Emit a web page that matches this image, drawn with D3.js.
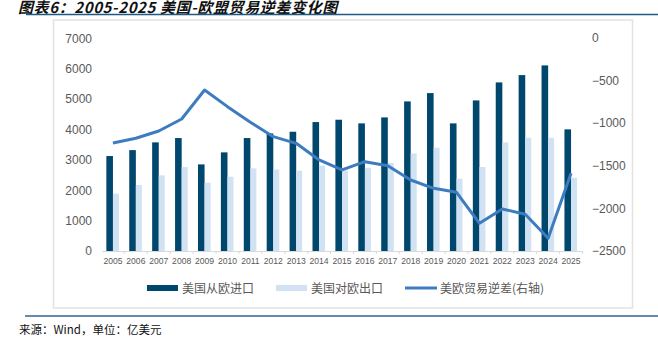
<!DOCTYPE html>
<html><head><meta charset="utf-8">
<script src="https://cdn.jsdelivr.net/npm/d3@7/dist/d3.min.js"></script>
<style>
body{margin:0;background:#fff;}
svg text{font-family:"Liberation Sans","Noto Sans CJK SC",sans-serif;}
</style></head>
<body><svg id="c" width="658" height="341"></svg>
<script>
const years = ["2005","2006","2007","2008","2009","2010","2011","2012","2013","2014","2015","2016","2017","2018","2019","2020","2021","2022","2023","2024","2025"];
const imports = [3125,3320,3575,3717,2850,3246,3717,3870,3925,4243,4320,4200,4397,4923,5197,4200,4956,5548,5789,6108,4003];
const exports = [1885,2171,2490,2763,2247,2445,2719,2686,2642,2807,2650,2740,2895,3213,3399,2379,2763,3575,3728,3728,2412];
const deficit = [-1234,-1179,-1094,-953,-613,-808,-992,-1160,-1238,-1433,-1550,-1453,-1500,-1668,-1765,-1812,-2175,-2008,-2070,-2351,-1589];
const leftTicks = [0,1000,2000,3000,4000,5000,6000,7000];
const rightTicks = [0,-500,-1000,-1500,-2000,-2500];
const seriesNames = ["美国从欧进口","美国对欧出口","美欧贸易逆差(右轴)"];
const titleText = "图表6：2005-2025 美国-欧盟贸易逆差变化图";
const footText = "来源：Wind，单位：亿美元";

const svg = d3.select("#c");
const cDark = "#00476e", cLight = "#d1e2f3", cLine = "#3e7cc0";

// title
svg.append("text").attr("x",18).attr("y",13).text(titleText)
  .style("font-family","'Noto Sans CJK SC',sans-serif").style("font-size","15px")
  .style("letter-spacing","0.6px")
  .style("font-style","italic").style("font-weight","bold").attr("fill","#111");
svg.append("line").attr("x1",26).attr("x2",658).attr("y1",14.5).attr("y2",14.5)
  .attr("stroke","#1d5a84").attr("stroke-width",1.5);
// frame
svg.append("rect").attr("x",53.5).attr("y",20).attr("width",579).attr("height",288)
  .attr("fill","none").attr("stroke","#e2e2e2").attr("stroke-width",1.5);
// footer
svg.append("line").attr("x1",25).attr("x2",658).attr("y1",316).attr("y2",316)
  .attr("stroke","#2c668f").attr("stroke-width",1.5);
svg.append("text").attr("x",19).attr("y",334).text(footText)
  .style("font-family","'Noto Sans CJK SC',sans-serif").style("font-size","11.5px").attr("fill","#111");

const x = d3.scaleBand().domain(years).range([101.5,582.5]).padding(0);
const yL = d3.scaleLinear().domain([0,7000]).range([251,38.3]);
const yR = d3.scaleLinear().domain([-2500,0]).range([251,37.7]);

// axes
const gL = svg.append("g").attr("transform","translate(92,0)")
  .call(d3.axisLeft(yL).tickValues(leftTicks).tickSize(0).tickPadding(0).tickFormat(d3.format("d")));
gL.select(".domain").remove();
gL.selectAll("text").style("font-size","12px").attr("fill","#595959");

const gR = svg.append("g").attr("transform","translate(592,0)")
  .call(d3.axisRight(yR).tickValues(rightTicks).tickSize(0).tickPadding(0).tickFormat(d3.format("d")));
gR.select(".domain").remove();
gR.selectAll("text").style("font-size","12px").attr("fill","#595959");

const bw = 6.6;
svg.append("g").selectAll("rect").data(years).join("rect")
  .attr("x",d=>x(d)+x.bandwidth()/2-bw).attr("width",bw)
  .attr("y",(d,i)=>yL(imports[i])).attr("height",(d,i)=>yL(0)-yL(imports[i])).attr("fill",cDark);
svg.append("g").selectAll("rect").data(years).join("rect")
  .attr("x",d=>x(d)+x.bandwidth()/2).attr("width",bw-0.6)
  .attr("y",(d,i)=>yL(exports[i])).attr("height",(d,i)=>yL(0)-yL(exports[i])).attr("fill",cLight);

const gX = svg.append("g").attr("transform","translate(0,251)")
  .call(d3.axisBottom(x).tickSize(3).tickPadding(4).tickSizeOuter(0));
gX.select(".domain").attr("stroke","#d9d9d9");
gX.selectAll(".tick line").attr("stroke","#d9d9d9").attr("transform","translate(11.45,0)");
gX.selectAll("text").style("font-size","8.6px").attr("fill","#595959");

const line = d3.line().x((d,i)=>x(years[i])+x.bandwidth()/2).y(d=>yR(d));
svg.append("path").datum(deficit).attr("d",line).attr("fill","none")
  .attr("stroke",cLine).attr("stroke-width",3).attr("stroke-linejoin","round");

// legend
const lg = svg.append("g");
const items = [{x:147,t:seriesNames[0],type:"rect",c:cDark},{x:276,t:seriesNames[1],type:"rect",c:cLight},{x:405,t:seriesNames[2],type:"line",c:cLine}];
items.forEach(it=>{
  if(it.type==="rect") lg.append("rect").attr("x",it.x).attr("y",285).attr("width",31).attr("height",6).attr("fill",it.c);
  else lg.append("line").attr("x1",it.x).attr("x2",it.x+32).attr("y1",288).attr("y2",288).attr("stroke",it.c).attr("stroke-width",3);
  lg.append("text").attr("x",it.x+35).attr("y",292.5).text(it.t)
    .style("font-family","'Noto Sans CJK SC',sans-serif").style("font-size","12px").attr("fill","#595959");
});
</script></body></html>
